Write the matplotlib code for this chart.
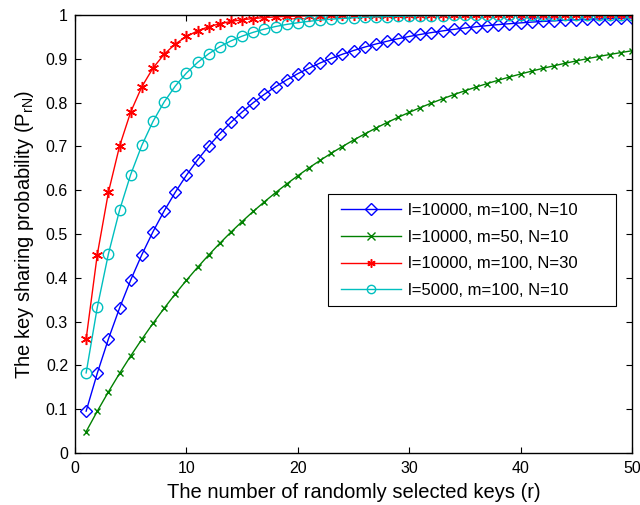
import matplotlib
matplotlib.use("Agg")
import matplotlib.pyplot as plt
from matplotlib.patches import Rectangle

plt.rcParams['font.family'] = ['Liberation Sans', 'DejaVu Sans']

r = list(range(1, 51))

p_l10000_m100_N10 = [
    0.0956, 0.1821, 0.2603, 0.3310, 0.3950, 0.4528, 0.5052, 0.5525, 0.5953, 0.6340,
    0.6690, 0.7006, 0.7292, 0.7551, 0.7786, 0.7997, 0.8189, 0.8362, 0.8519, 0.8660,
    0.8788, 0.8904, 0.9009, 0.9104, 0.9189, 0.9267, 0.9337, 0.9400, 0.9458, 0.9510,
    0.9556, 0.9599, 0.9637, 0.9672, 0.9703, 0.9732, 0.9757, 0.9781, 0.9801, 0.9820,
    0.9838, 0.9853, 0.9867, 0.9880, 0.9891, 0.9902, 0.9911, 0.9920, 0.9927, 0.9934]

p_l10000_m50_N10 = [
    0.0489, 0.0954, 0.1396, 0.1817, 0.2217, 0.2597, 0.2959, 0.3303, 0.3631, 0.3942,
    0.4238, 0.4520, 0.4788, 0.5043, 0.5285, 0.5516, 0.5735, 0.5943, 0.6142, 0.6330,
    0.6510, 0.6680, 0.6843, 0.6997, 0.7144, 0.7283, 0.7416, 0.7543, 0.7663, 0.7777,
    0.7886, 0.7989, 0.8087, 0.8181, 0.8270, 0.8354, 0.8435, 0.8511, 0.8584, 0.8653,
    0.8719, 0.8782, 0.8841, 0.8898, 0.8952, 0.9003, 0.9052, 0.9098, 0.9142, 0.9184]

p_l10000_m100_N30 = [
    0.2603, 0.4528, 0.5953, 0.7006, 0.7786, 0.8362, 0.8788, 0.9104, 0.9337, 0.9510,
    0.9637, 0.9732, 0.9801, 0.9853, 0.9891, 0.9920, 0.9941, 0.9956, 0.9968, 0.9976,
    0.9982, 0.9987, 0.9990, 0.9993, 0.9995, 0.9996, 0.9997, 0.9998, 0.9998, 0.9999,
    0.9999, 0.9999, 1.0000, 1.0000, 1.0000, 1.0000, 1.0000, 1.0000, 1.0000, 1.0000,
    1.0000, 1.0000, 1.0000, 1.0000, 1.0000, 1.0000, 1.0000, 1.0000, 1.0000, 1.0000]

p_l5000_m100_N10 = [
    0.1829, 0.3324, 0.4545, 0.5543, 0.6358, 0.7024, 0.7569, 0.8014, 0.8377, 0.8674,
    0.8916, 0.9115, 0.9277, 0.9409, 0.9517, 0.9605, 0.9678, 0.9737, 0.9785, 0.9824,
    0.9856, 0.9883, 0.9904, 0.9922, 0.9936, 0.9948, 0.9957, 0.9965, 0.9971, 0.9977,
    0.9981, 0.9984, 0.9987, 0.9990, 0.9992, 0.9993, 0.9994, 0.9995, 0.9996, 0.9997,
    0.9997, 0.9998, 0.9998, 0.9999, 0.9999, 0.9999, 0.9999, 0.9999, 1.0000, 1.0000]

labels = ["l=10000, m=100, N=10", "l=10000, m=50, N=10",
          "l=10000, m=100, N=30", "l=5000, m=100, N=10"]

W, H = 640, 505
AX_L, AX_R, AX_T, AX_B = 75, 632, 15, 453
fig = plt.figure(figsize=(6.4, 5.05), dpi=100)
ax = fig.add_axes([AX_L/W, 1 - AX_B/H, (AX_R-AX_L)/W, (AX_B-AX_T)/H])

def axfrac(px, py):
    return ((px - AX_L) / (AX_R - AX_L), (AX_B - py) / (AX_B - AX_T))

ax.plot(r, p_l10000_m100_N10, color='#0000ff', lw=1.0, marker='D', ms=6.5,
        mfc='none', mec='#0000ff', mew=1.0, label=labels[0])
ax.plot(r, p_l10000_m50_N10, color='#008000', lw=1.0, marker='x', ms=5,
        mec='#008000', mew=1.0, label=labels[1])
ax.plot(r, p_l10000_m100_N30, color='#ff0000', lw=1.0, marker=(6, 2, 0), ms=8,
        mec='#ff0000', mew=1.1, label=labels[2])
ax.plot(r, p_l5000_m100_N10, color='#00bfbf', lw=1.0, marker='o', ms=7.5,
        mfc='none', mec='#00bfbf', mew=1.0, label=labels[3])

ax.set_xlim(0, 50)
ax.set_ylim(0, 1)
ax.set_xticks([0, 10, 20, 30, 40, 50])
ax.set_yticks([0, 0.1, 0.2, 0.3, 0.4, 0.5, 0.6, 0.7, 0.8, 0.9, 1])
ax.set_yticklabels(['0', '0.1', '0.2', '0.3', '0.4', '0.5', '0.6', '0.7', '0.8', '0.9', '1'])
ax.tick_params(direction='in', top=True, right=True, labelsize=11.5, length=4, width=0.8)
ax.tick_params(axis='x', pad=6)
ax.tick_params(axis='y', pad=5)
for s in ax.spines.values():
    s.set_linewidth(1.0)

ax.set_xlabel('The number of randomly selected keys (r)', fontsize=14.5, labelpad=5)
ax.set_ylabel('The key sharing probability (P$_{\\mathregular{rN}}$)', fontsize=14.5, labelpad=7)

# legend frame (MATLAB style box)
x0, y0 = axfrac(328, 306)
x1, y1 = axfrac(616, 194)
ax.add_patch(Rectangle((x0, y0), x1 - x0, y1 - y0, transform=ax.transAxes,
                       facecolor='white', edgecolor='black', lw=0.8, zorder=4))

leg = ax.legend(loc='upper left', bbox_to_anchor=axfrac(341, 203),
                fontsize=12, numpoints=1, handlelength=3.6, handletextpad=0.4,
                labelspacing=0.7, borderpad=0, borderaxespad=0, frameon=False)
leg.set_zorder(5)
for h in leg.legend_handles:
    h.set_markersize(6)

fig.savefig('out.png', dpi=100)
